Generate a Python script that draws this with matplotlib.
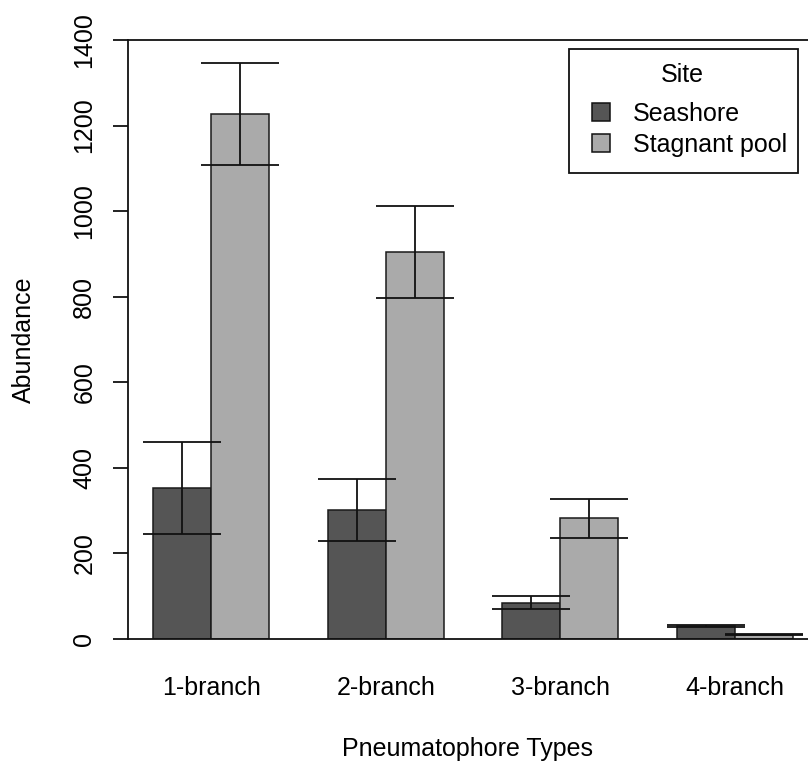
import numpy as np
import matplotlib
matplotlib.use("Agg")
import matplotlib.pyplot as plt
from matplotlib.patches import Rectangle

# ============================================
# DATA
# ============================================
types = ["1-branch", "2-branch", "3-branch", "4-branch"]
sites = ["Seashore", "Stagnant pool"]
seashore_mean = [353, 302, 85, 31]
seashore_se = [108, 73, 15, 2]
pool_mean = [1227, 904, 282, 10]
pool_se = [119, 108, 45, 1.5]
y_ticks = [0, 200, 400, 600, 800, 1000, 1200, 1400]

dark = "#555555"
light = "#aaaaaa"
ink = "#111111"

plt.rcParams["font.family"] = ["Liberation Sans", "DejaVu Sans"]
plt.rcParams["font.size"] = 18

W, H = 808, 764

# ============================================
# FIGURE
# ============================================
fig = plt.figure(figsize=(W / 100, H / 100), dpi=100)
ax = fig.add_axes([128 / W, 125 / H, 680 / W, 599 / H])

# R barplot style: bars of width 1, one bar gap between groups
centers = 2 + 3 * np.arange(len(types))
x_sea = centers - 0.5
x_pool = centers + 0.5

ax.bar(x_sea, seashore_mean, width=1, color=dark, edgecolor="#1a1a1a",
       linewidth=1.1, zorder=2)
ax.bar(x_pool, pool_mean, width=1, color=light, edgecolor="#1a1a1a",
       linewidth=1.1, zorder=2)

err_kw = dict(fmt="none", ecolor=ink, elinewidth=1.3, capsize=28,
              capthick=1.3, zorder=3)
ax.errorbar(x_sea, seashore_mean, yerr=seashore_se, **err_kw)
ax.errorbar(x_pool, pool_mean, yerr=pool_se, **err_kw)

ax.set_xlim(0.57, 12.258)
ax.set_ylim(0, 1400)

# axes look
ax.spines["right"].set_visible(False)
for s in ["left", "top", "bottom"]:
    ax.spines[s].set_linewidth(1.3)
    ax.spines[s].set_color(ink)

ax.set_yticks(y_ticks)
ax.set_yticklabels([str(v) for v in y_ticks], rotation=90, va="center")
ax.tick_params(axis="y", length=10.8, width=1.3, pad=12, color=ink)
ax.set_xticks(centers)
ax.set_xticklabels(types)
ax.tick_params(axis="x", length=0, pad=26.5)

ax.set_ylabel("Abundance", labelpad=26)
ax.set_xlabel("Pneumatophore Types", labelpad=27)

# ============================================
# LEGEND (R style box, drawn in pixel coords)
# ============================================
def fx(px):
    return px / W

def fy(py):
    return 1 - py / H

fig.patches.append(Rectangle((fx(569), fy(173)), fx(798) - fx(569),
                             fy(49) - fy(173), transform=fig.transFigure,
                             facecolor="white", edgecolor=ink,
                             linewidth=1.3, zorder=5))
fig.text(fx(682), fy(75), "Site", ha="center", va="center", zorder=6)
for label, col, py in zip(sites, [dark, light], [112, 143]):
    fig.patches.append(Rectangle((fx(592), fy(py + 9)), fx(610) - fx(592),
                                 fy(py - 9) - fy(py + 9),
                                 transform=fig.transFigure, facecolor=col,
                                 edgecolor=ink, linewidth=1.1, zorder=6))
    fig.text(fx(633), fy(py + 2), label, ha="left", va="center", zorder=6)

fig.savefig("out.png", dpi=100)
